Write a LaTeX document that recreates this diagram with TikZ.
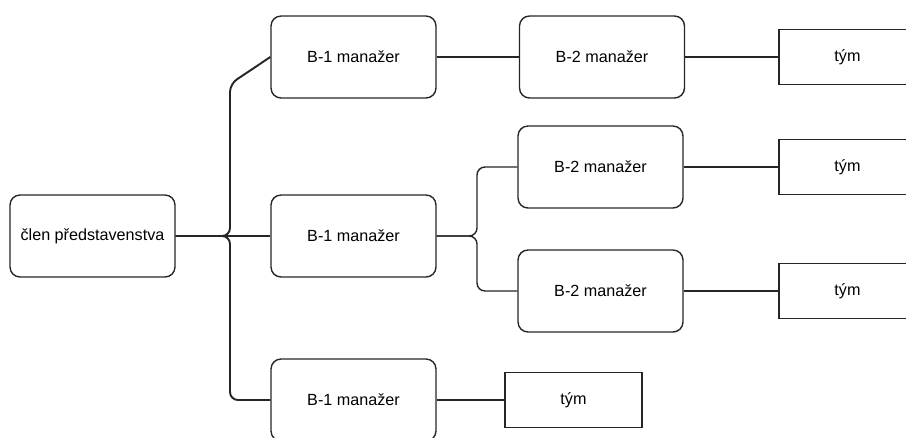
\documentclass[tikz,border=0pt]{standalone}
\usepackage{fontspec}
\setmainfont{Liberation Sans}
\usepackage{tikz}
\usetikzlibrary{arrows,arrows.meta}

\tikzset{
	mgr/.style={draw=black!85, line width=0.8pt, rounded corners=0.2cm, minimum width=3.3cm, minimum height=1.64cm, inner sep=0pt, font=\fontsize{9.2}{11}\selectfont},
	team/.style={draw=black!85, line width=0.8pt, minimum width=2.74cm, minimum height=1.1cm, inner sep=0pt, font=\fontsize{9.2}{11}\selectfont},
	link/.style={draw=black!85, line width=0.8pt, rounded corners=0.16cm}
}

\begin{document}
\begin{tikzpicture}[x=0.02cm, y=-0.02cm]
		\useasboundingbox (0,0) rectangle (906,437);
		% boxes
		\node[mgr] (root) at (92.5,236) {člen představenstva};
		\node[mgr] (b1a) at (353.5,57) {B-1 manažer};
		\node[mgr] (b1b) at (353.5,236) {B-1 manažer};
		\node[mgr] (b1c) at (353.5,400) {B-1 manažer};
		\node[mgr] (b2a) at (602,57) {B-2 manažer};
		\node[mgr] (b2b) at (600.5,167) {B-2 manažer};
		\node[mgr] (b2c) at (600.5,291) {B-2 manažer};
		\node[team] (ta) at (847.5,57) {tým};
		\node[team] (tb) at (847.5,167) {tým};
		\node[team] (tc) at (847.5,291) {tým};
		\node[team] (td) at (573.5,400) {tým};
		% junctions
		\coordinate (j1) at (230,236);
		\coordinate (j2) at (477,236);
		% connectors
		\draw[link, line width=1.1pt] (root.east) -- (j1) -- ++(0,-152) -- (b1a.west);
		\draw[link, line width=1.1pt] (root.east) -- (b1b.west);
		\draw[link, line width=1.1pt] (root.east) -- (j1) -- (j1 |- b1c.west) -- (b1c.west);
		\draw[link] (b1a.east) -- (b2a.west);
		\draw[link] (b1b.east) -- (j2) -- (j2 |- b2b.west) -- (b2b.west);
		\draw[link] (b1b.east) -- (j2) -- (j2 |- b2c.west) -- (b2c.west);
		\draw[link] (b2a.east) -- (ta.west);
		\draw[link] (b2b.east) -- (tb.west);
		\draw[link] (b2c.east) -- (tc.west);
		\draw[link] (b1c.east) -- (td.west);
\end{tikzpicture}
\end{document}
